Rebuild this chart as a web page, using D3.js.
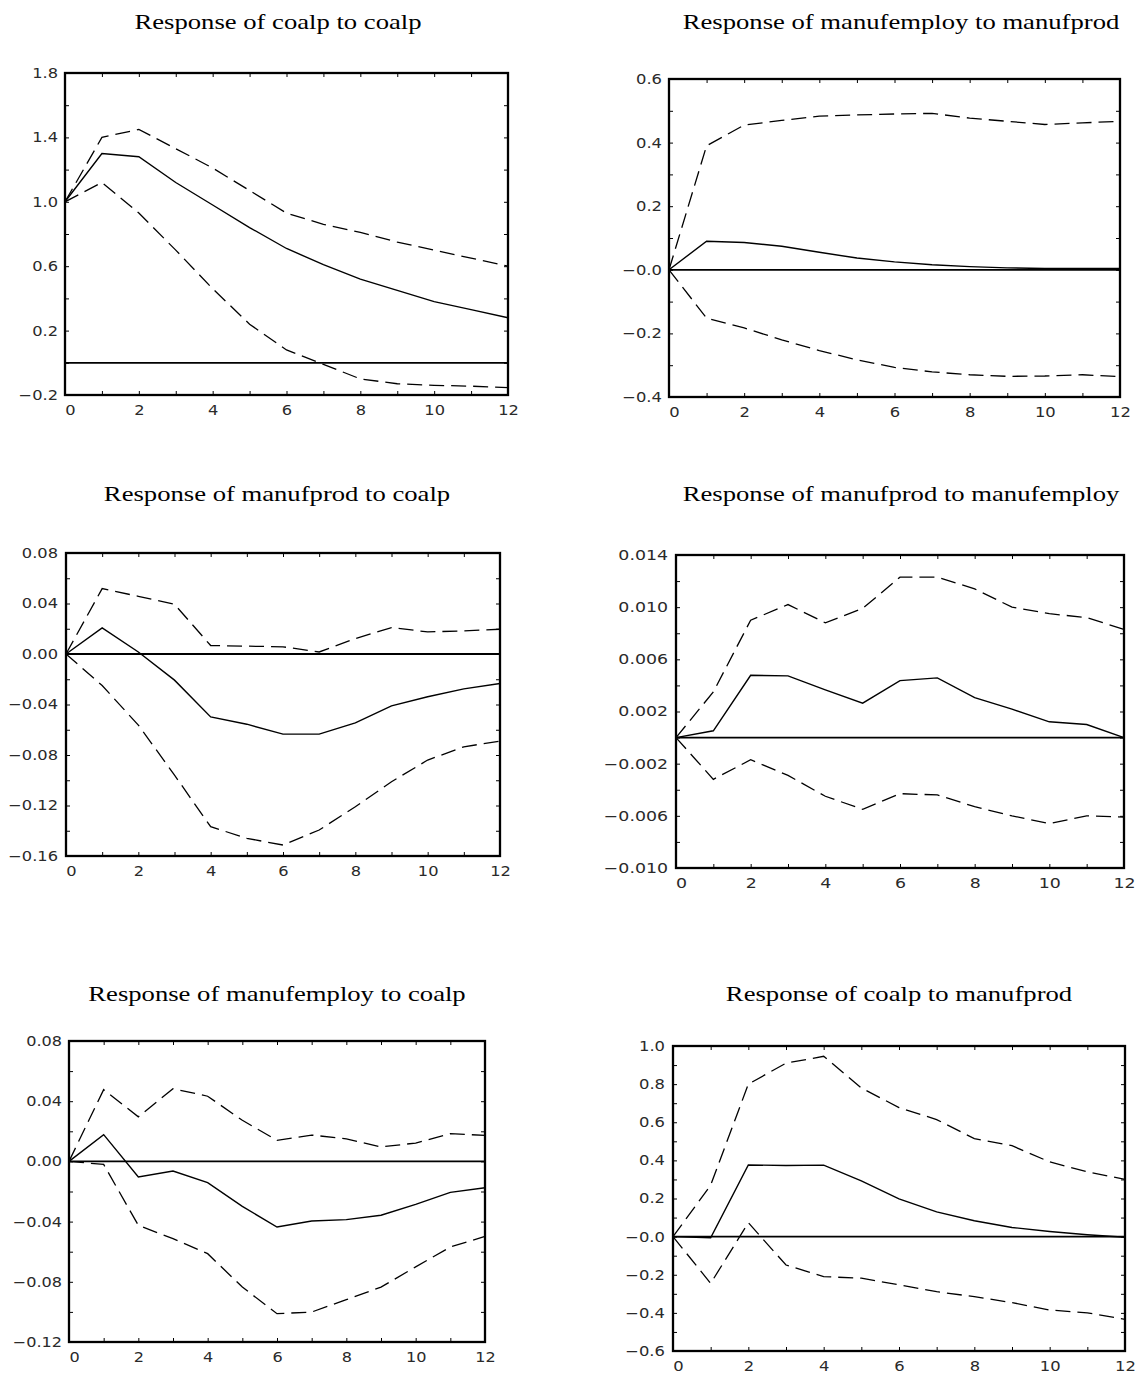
<!DOCTYPE html>
<html><head><meta charset="utf-8">
<script src="https://cdn.jsdelivr.net/npm/d3@7"></script>
<style>body{margin:0;background:#fff}svg{display:block}</style>
</head><body>
<svg id="chart" width="1140" height="1374"></svg>
<script>
// ---------- data ----------
const horizon = [0,1,2,3,4,5,6,7,8,9,10,11,12];
const xTickValues = [0,1,2,3,4,5,6,7,8,9,10,11,12];
const xLabelValues = [0,2,4,6,8,10,12];

const titles = [
  "Response of coalp to coalp",
  "Response of manufemploy to manufprod",
  "Response of manufprod to coalp",
  "Response of manufprod to manufemploy",
  "Response of manufemploy to coalp",
  "Response of coalp to manufprod"
];

// Panel 1: coalp -> coalp
const coalpCoalpIrf   = [1.00,1.30,1.28,1.12,0.98,0.84,0.71,0.61,0.52,0.45,0.38,0.33,0.28];
const coalpCoalpUpper = [1.00,1.40,1.45,1.33,1.21,1.07,0.93,0.86,0.81,0.75,0.70,0.65,0.60];
const coalpCoalpLower = [1.00,1.12,0.93,0.70,0.46,0.24,0.08,-0.01,-0.10,-0.13,-0.14,-0.145,-0.154];

// Panel 2: manufemploy -> manufprod
const empProdIrf   = [0,0.090,0.086,0.074,0.055,0.037,0.025,0.016,0.010,0.006,0.004,0.004,0.004];
const empProdUpper = [0,0.39,0.455,0.47,0.483,0.487,0.49,0.492,0.477,0.467,0.457,0.462,0.467];
const empProdLower = [0,-0.152,-0.183,-0.22,-0.254,-0.283,-0.307,-0.321,-0.33,-0.335,-0.334,-0.33,-0.336];

// Panel 3: manufprod -> coalp
const prodCoalpIrf   = [0,0.0207,0.0016,-0.0207,-0.0498,-0.0556,-0.0635,-0.0635,-0.0545,-0.0411,-0.0339,-0.0276,-0.0234];
const prodCoalpUpper = [0,0.0518,0.0457,0.0394,0.0067,0.0062,0.0057,0.0016,0.0122,0.0209,0.0175,0.0183,0.0196];
const prodCoalpLower = [0,-0.025,-0.0563,-0.0959,-0.1368,-0.146,-0.1513,-0.1394,-0.121,-0.1012,-0.084,-0.0735,-0.069];

// Panel 4: manufprod -> manufemploy
const prodEmpIrf   = [0,0.00052,0.00478,0.00473,0.00366,0.00264,0.00437,0.00458,0.00307,0.00218,0.00121,0.0010,0];
const prodEmpUpper = [0,0.0035,0.0090,0.0102,0.0088,0.0099,0.0123,0.0123,0.0114,0.0100,0.0095,0.0092,0.0083];
const prodEmpLower = [0,-0.0032,-0.0017,-0.0029,-0.0045,-0.0055,-0.0043,-0.0044,-0.0053,-0.0060,-0.0066,-0.0060,-0.0061];

// Panel 5: manufemploy -> coalp
const empCoalpIrf   = [0,0.0178,-0.0103,-0.0064,-0.0141,-0.0299,-0.0436,-0.0396,-0.0387,-0.0358,-0.0285,-0.0206,-0.0175];
const empCoalpUpper = [0,0.0477,0.0296,0.0483,0.0433,0.0273,0.014,0.0175,0.015,0.0096,0.0122,0.0184,0.0173];
const empCoalpLower = [0,-0.002,-0.0425,-0.0513,-0.0613,-0.0835,-0.1012,-0.1001,-0.0919,-0.0835,-0.0701,-0.0569,-0.0498];

// Panel 6: coalp -> manufprod
const coalpProdIrf   = [0,-0.006,0.376,0.373,0.375,0.293,0.198,0.13,0.083,0.048,0.027,0.01,-0.003];
const coalpProdUpper = [0,0.27,0.80,0.91,0.946,0.78,0.677,0.614,0.514,0.477,0.392,0.34,0.30];
const coalpProdLower = [0,-0.245,0.073,-0.149,-0.21,-0.218,-0.253,-0.289,-0.315,-0.346,-0.385,-0.40,-0.434];

// y domains, tick positions and tick labels
const yDomains = [[-0.2,1.8],[-0.4,0.6],[-0.16,0.08],[-0.010,0.014],[-0.12,0.08],[-0.6,1.0]];
const yTicks1 = [-0.2,0,0.2,0.4,0.6,0.8,1.0,1.2,1.4,1.6,1.8];
const yTicks2 = [-0.4,-0.3,-0.2,-0.1,0,0.1,0.2,0.3,0.4,0.5,0.6];
const yTicks3 = [-0.16,-0.14,-0.12,-0.10,-0.08,-0.06,-0.04,-0.02,0,0.02,0.04,0.06,0.08];
const yTicks4 = [-0.010,-0.008,-0.006,-0.004,-0.002,0,0.002,0.004,0.006,0.008,0.010,0.012,0.014];
const yTicks5 = [-0.12,-0.10,-0.08,-0.06,-0.04,-0.02,0,0.02,0.04,0.06,0.08];
const yTicks6 = [-0.6,-0.5,-0.4,-0.3,-0.2,-0.1,0,0.1,0.2,0.3,0.4,0.5,0.6,0.7,0.8,0.9,1.0];
const yLabelVals1 = [-0.2,0.2,0.6,1.0,1.4,1.8];
const yLabelTxt1  = ["\u22120.2","0.2","0.6","1.0","1.4","1.8"];
const yLabelVals2 = [-0.4,-0.2,0,0.2,0.4,0.6];
const yLabelTxt2  = ["\u22120.4","\u22120.2","\u22120.0","0.2","0.4","0.6"];
const yLabelVals3 = [-0.16,-0.12,-0.08,-0.04,0,0.04,0.08];
const yLabelTxt3  = ["\u22120.16","\u22120.12","\u22120.08","\u22120.04","0.00","0.04","0.08"];
const yLabelVals4 = [-0.010,-0.006,-0.002,0.002,0.006,0.010,0.014];
const yLabelTxt4  = ["\u22120.010","\u22120.006","\u22120.002","0.002","0.006","0.010","0.014"];
const yLabelVals5 = [-0.12,-0.08,-0.04,0,0.04,0.08];
const yLabelTxt5  = ["\u22120.12","\u22120.08","\u22120.04","0.00","0.04","0.08"];
const yLabelVals6 = [-0.6,-0.4,-0.2,0,0.2,0.4,0.6,0.8,1.0];
const yLabelTxt6  = ["\u22120.6","\u22120.4","\u22120.2","\u22120.0","0.2","0.4","0.6","0.8","1.0"];

// ---------- layout (positions only) ----------
const layout = [
  {l:65,  t:73,  r:508,  b:395,  tx:278, ty:29,   pad:7, sx:1.16},
  {l:669, t:79,  r:1120, b:397,  tx:901, ty:29,   pad:7, sx:1.17},
  {l:66,  t:553, r:500,  b:856,  tx:277, ty:501,  pad:8, sx:1.16},
  {l:676, t:555, r:1124, b:868,  tx:901, ty:501,  pad:8, sx:1.24},
  {l:69,  t:1041,r:485,  b:1342, tx:277, ty:1001, pad:7, sx:1.15},
  {l:673, t:1046,r:1125, b:1351, tx:899, ty:1001, pad:8, sx:1.17}
];

const panels = [
  {irf:coalpCoalpIrf, up:coalpCoalpUpper, lo:coalpCoalpLower, ticks:yTicks1, lv:yLabelVals1, lt:yLabelTxt1},
  {irf:empProdIrf,   up:empProdUpper,   lo:empProdLower,   ticks:yTicks2, lv:yLabelVals2, lt:yLabelTxt2},
  {irf:prodCoalpIrf, up:prodCoalpUpper, lo:prodCoalpLower, ticks:yTicks3, lv:yLabelVals3, lt:yLabelTxt3},
  {irf:prodEmpIrf,   up:prodEmpUpper,   lo:prodEmpLower,   ticks:yTicks4, lv:yLabelVals4, lt:yLabelTxt4},
  {irf:empCoalpIrf,  up:empCoalpUpper,  lo:empCoalpLower,  ticks:yTicks5, lv:yLabelVals5, lt:yLabelTxt5},
  {irf:coalpProdIrf, up:coalpProdUpper, lo:coalpProdLower, ticks:yTicks6, lv:yLabelVals6, lt:yLabelTxt6}
];

const TICK_FONT = "'DejaVu Sans', sans-serif";
const TITLE_FONT = "'Liberation Serif', 'Times New Roman', serif";
const SX_TITLE = 1.24;

const svg = d3.select("#chart");

panels.forEach((p, i) => {
  const L = layout[i];
  const w = L.r - L.l, h = L.b - L.t;
  const x = d3.scaleLinear().domain([0,12]).range([0,w]);
  const y = d3.scaleLinear().domain(yDomains[i]).range([h,0]);
  const g = svg.append("g").attr("transform", `translate(${L.l},${L.t})`);

  // title
  svg.append("text")
    .attr("transform", `translate(${L.tx},${L.ty}) scale(${SX_TITLE},1)`)
    .attr("text-anchor","middle")
    .style("font-family", TITLE_FONT).style("font-size","21.5px").attr("fill","#000")
    .text(titles[i]);

  const key = v => v.toFixed(4);
  const lblMap = new Map(p.lv.map((v,k)=>[key(v), p.lt[k]]));

  const axL = g.append("g").call(
    d3.axisLeft(y).tickValues(p.ticks).tickSizeInner(-4).tickSizeOuter(0)
      .tickPadding(L.pad).tickFormat(d => lblMap.get(key(d)) || ""));
  const axR = g.append("g").attr("transform",`translate(${w},0)`).call(
    d3.axisRight(y).tickValues(p.ticks).tickSizeInner(-4).tickSizeOuter(0).tickFormat(""));
  const axT = g.append("g").call(
    d3.axisTop(x).tickValues(xTickValues).tickSizeInner(-4).tickSizeOuter(0).tickFormat(""));
  const axB = g.append("g").attr("transform",`translate(0,${h})`).call(
    d3.axisBottom(x).tickValues(xTickValues).tickSizeInner(-4).tickSizeOuter(0)
      .tickPadding(10).tickFormat(d => xLabelValues.includes(d) ? String(d) : ""));

  [axL,axR,axT,axB].forEach(a => {
    a.select(".domain").remove();
    a.selectAll("line").attr("stroke","#000").attr("stroke-width",1);
    a.attr("font-family", null).attr("font-size", null);
    a.selectAll("text").style("font-family", TICK_FONT).style("font-size","14px").attr("fill","#2a2a2a");
  });
  axL.selectAll("text").each(function(){
    const t = d3.select(this);
    const xx = +t.attr("x");
    t.attr("x", null).attr("transform", `translate(${xx},0) scale(${L.sx},1)`);
  });
  axB.selectAll("text").each(function(d){
    const t = d3.select(this);
    const yy = +t.attr("y");
    const shift = d === 0 ? 5 : 0;
    t.attr("y", null).attr("transform", `translate(${shift},${yy}) scale(${L.sx},1)`);
  });

  // zero line
  g.append("line").attr("x1",0).attr("x2",w).attr("y1",y(0)).attr("y2",y(0))
    .attr("stroke","#000").attr("stroke-width",1.8);

  const line = d3.line().x((d,k)=>x(horizon[k])).y(d=>y(d));
  g.append("path").datum(p.up).attr("d",line).attr("fill","none")
    .attr("stroke","#000").attr("stroke-width",1.3).attr("stroke-dasharray","15,7");
  g.append("path").datum(p.lo).attr("d",line).attr("fill","none")
    .attr("stroke","#000").attr("stroke-width",1.3).attr("stroke-dasharray","15,7");
  g.append("path").datum(p.irf).attr("d",line).attr("fill","none")
    .attr("stroke","#000").attr("stroke-width",1.4);

  // frame
  g.append("rect").attr("x",0).attr("y",0).attr("width",w).attr("height",h)
    .attr("fill","none").attr("stroke","#000").attr("stroke-width",2.3);
});
</script>
</body></html>
